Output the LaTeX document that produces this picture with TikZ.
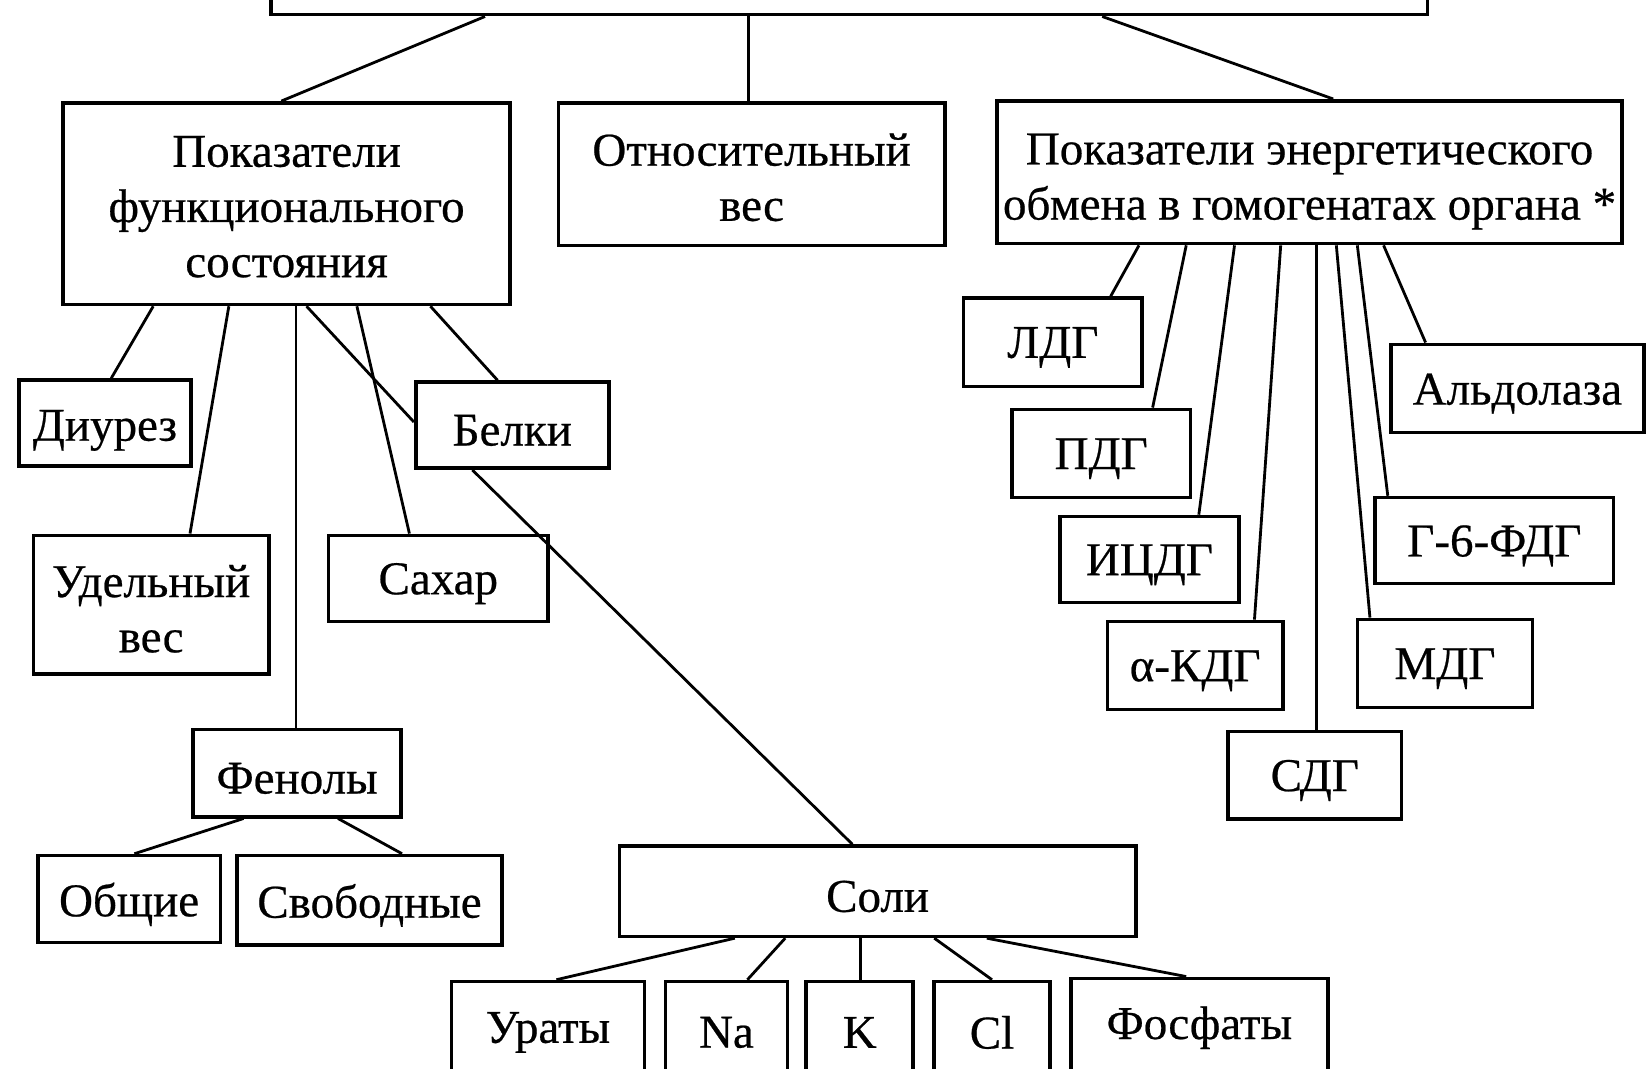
\documentclass[tikz,border=0pt]{standalone}
\usepackage{fontspec}
\setmainfont[FakeBold=0.5]{Liberation Serif}
\begin{document}
\begin{tikzpicture}[x=0.52487pt, y=-0.52487pt,
  box/.style={draw, line width=1.8pt, inner sep=0pt},
  txt/.style={inner sep=0pt, align=center, font=\fontsize{23.5}{27.6}\selectfont},
  conn/.style={line width=1.4pt}]
\newcommand\bxn[7][5]{\node[box, minimum width={(#5-#3)*0.52487pt}, minimum height={(#6-#4)*0.52487pt}] (#2) at ({(#3+#5)/2},{(#4+#6)/2}) {};
  \node[txt] (#2-t) at ([yshift={-#1*0.52487pt}]#2.center) {#7};}
\useasboundingbox (0,0) rectangle (1568,1018);
\clip (0,0) rectangle (1568,1018);
\fill[white] (0,0) rectangle (1568,1018);
% boxes
\node[box, minimum width={1102*0.52487pt}, minimum height={94*0.52487pt}] (top) at (809,-33) {};
\bxn[3]{fs}{60}{98}{486}{290}{Показатели\\функционального\\состояния}
\bxn[3]{ov}{532}{98}{900}{234}{Относительный\\вес}
\bxn[9]{en}{950}{96}{1545}{232}{Показатели энергетического\\обмена в гомогенатах органа *}
\bxn[7]{diur}{18}{362}{182}{444}{Диурез}
\bxn{belki}{396}{364}{580}{446}{Белки}
\bxn[4]{ud}{32}{510}{256}{642}{Удельный\\вес}
\bxn{sah}{313}{510}{522}{592}{Сахар}
\bxn{fen}{184}{695}{382}{778}{Фенолы}
\bxn{obsh}{36}{815}{210}{898}{Общие}
\bxn{svob}{226}{815}{478}{900}{Свободные}
\bxn{soli}{590}{806}{1082}{892}{Соли}
\bxn{urat}{430}{935}{614}{1022}{Ураты}
\bxn{na}{634}{935}{750}{1022}{Na}
\bxn{k}{768}{935}{870}{1022}{K}
\bxn{cl}{890}{935}{1000}{1022}{Cl}
\bxn[2]{fosf}{1020}{932}{1265}{1022}{Фосфаты}
\bxn{ldg}{918}{284}{1088}{368}{ЛДГ}
\bxn{pdg}{964}{390}{1134}{474}{ПДГ}
\bxn{icdg}{1010}{492}{1180}{574}{ИЦДГ}
\bxn{akdg}{1055}{592}{1222}{676}{α-КДГ}
\bxn{sdg}{1170}{697}{1335}{780}{СДГ}
\bxn{mdg}{1293}{590}{1460}{674}{МДГ}
\bxn{g6}{1310}{474}{1537}{556}{Г-6-ФДГ}
\bxn{ald}{1325}{328}{1566}{412}{Альдолаза}
% connectors
\draw[conn] (top.south -| 462,0) -- (fs.north -| 268,0);
\draw[conn] (top.south -| 713,0) -- (ov.north -| 713,0);
\draw[conn] (top.south -| 1050,0) -- (en.north -| 1270,0);
\draw[conn] (fs.south -| 146,0) -- (diur.north -| 106,0);
\draw[conn] (fs.south -| 218,0) -- (ud.north -| 181,0);
\draw[conn] (fs.south -| 282,0) -- (fen.north -| 282,0);
\draw[conn] (fs.south -| 292,0) -- (belki.west |- 0,402);
\draw[conn] (fs.south -| 340,0) -- (sah.north -| 390,0);
\draw[conn] (fs.south -| 410,0) -- (belki.north -| 474,0);
\draw[conn] (belki.south -| 450,0) -- (soli.north -| 812,0);
\draw[conn] (fen.south -| 232,0) -- (obsh.north -| 128,0);
\draw[conn] (fen.south -| 322,0) -- (svob.north -| 383,0);
\draw[conn] (soli.south -| 700,0) -- (urat.north -| 530,0);
\draw[conn] (soli.south -| 748,0) -- (na.north -| 712,0);
\draw[conn] (soli.south -| 820,0) -- (k.north -| 820,0);
\draw[conn] (soli.south -| 890,0) -- (cl.north -| 945,0);
\draw[conn] (soli.south -| 940,0) -- (fosf.north -| 1130,0);
\draw[conn] (en.south -| 1085,0) -- (ldg.north -| 1058,0);
\draw[conn] (en.south -| 1130,0) -- (pdg.north -| 1098,0);
\draw[conn] (en.south -| 1176,0) -- (icdg.north -| 1142,0);
\draw[conn] (en.south -| 1220,0) -- (akdg.north -| 1195,0);
\draw[conn] (en.south -| 1254,0) -- (sdg.north -| 1254,0);
\draw[conn] (en.south -| 1273,0) -- (mdg.north -| 1305,0);
\draw[conn] (en.south -| 1293,0) -- (g6.north -| 1322,0);
\draw[conn] (en.south -| 1318,0) -- (ald.north -| 1358,0);
\end{tikzpicture}
\end{document}
